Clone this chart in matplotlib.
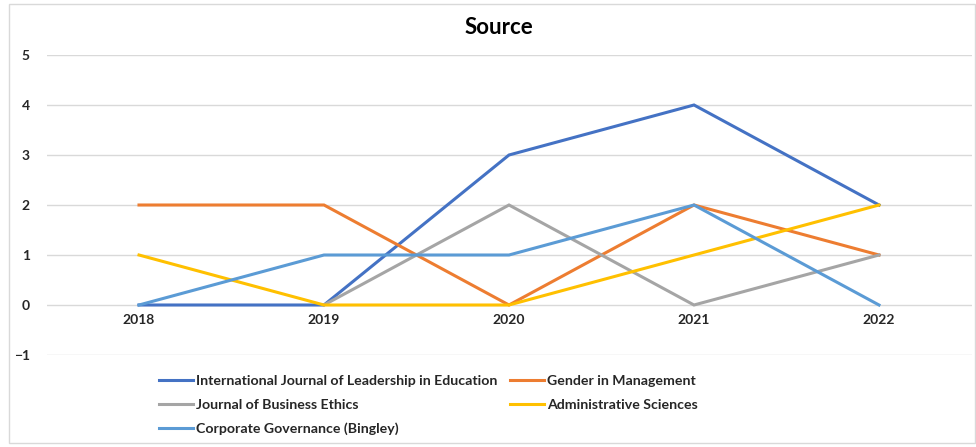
import numpy as np
import matplotlib.pyplot as plt
from matplotlib.patches import Rectangle

plt.rcParams['font.family'] = ['Lato', 'DejaVu Sans']

years = ['2018', '2019', '2020', '2021', '2022']
ijle = [0, 0, 3, 4, 2]
gender_mgmt = [2, 2, 0, 2, 1]
business_ethics = [np.nan, 0, 2, 0, 1]
admin_sciences = [1, 0, 0, 1, 2]
corp_gov = [0, 1, 1, 2, 0]

series = [
    ('International Journal of Leadership in Education', ijle, '#4472C4'),
    ('Gender in Management', gender_mgmt, '#ED7D31'),
    ('Journal of Business Ethics', business_ethics, '#A5A5A5'),
    ('Administrative Sciences', admin_sciences, '#FFC000'),
    ('Corporate Governance (Bingley)', corp_gov, '#5B9BD5'),
]

fig = plt.figure(figsize=(9.76, 4.47), dpi=100)
fig.patches.append(Rectangle((9 / 976, 4 / 447), 966 / 976, 439 / 447,
                             transform=fig.transFigure, fill=False,
                             edgecolor='#D9D9D9', linewidth=1))

ax = fig.add_axes([46.5 / 976, 1 - 355 / 447, 925 / 976, 300 / 447])
x = list(range(len(years)))
handles = {}
for name, vals, color in series:
    h, = ax.plot(x, vals, color=color, linewidth=2.2, label=name,
                 solid_joinstyle='miter', zorder=3)
    handles[name] = h

ax.set_xlim(-0.5, len(years) - 0.5)
ax.set_ylim(-1, 5)
ax.set_yticks(range(-1, 6))
ax.grid(axis='y', color='#D9D9D9', linewidth=1)
ax.set_axisbelow(True)
for s in ax.spines.values():
    s.set_visible(False)
ax.tick_params(length=0, labelsize=10, labelcolor='#262626')
ax.tick_params(axis='y', pad=12)
ax.set_xticks([])
for xi, lab in zip(x, years):
    ax.text(xi, -0.3, lab, ha='center', va='center', fontsize=10,
            fontweight='bold', color='#262626')
for lab in ax.get_yticklabels():
    lab.set_fontweight('bold')

fig.text(0.511, 1 - 28 / 447, 'Source', ha='center', va='center',
         fontsize=16, fontweight='bold', color='#000000')

# matplotlib fills legend columns first, so reorder to get row-wise layout
order = ['International Journal of Leadership in Education',
         'Journal of Business Ethics',
         'Corporate Governance (Bingley)',
         'Gender in Management',
         'Administrative Sciences']
leg = fig.legend([handles[n] for n in order], order, ncol=2,
                 loc='upper left', bbox_to_anchor=(159 / 976, 1 - 375 / 447),
                 frameon=False, fontsize=10.2, handlelength=2.4,
                 handletextpad=0.2, columnspacing=0.9, labelspacing=0.82,
                 borderaxespad=0, borderpad=0)
for t in leg.get_texts():
    t.set_fontweight('bold')
    t.set_color('#262626')

fig.savefig('out.png', dpi=100)
